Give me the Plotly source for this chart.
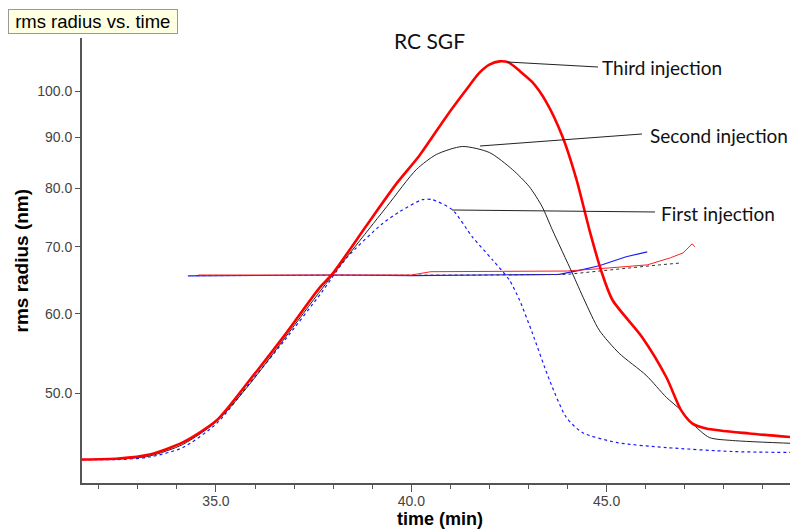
import plotly.graph_objects as go

# ---- data (time in min, rms radius in nm) ----
third_t = [31.57, 32.50, 33.30, 34.15, 35.02, 35.86, 36.76, 37.65, 37.98, 38.85, 39.62, 40.21,
           40.90, 41.41, 41.74, 42.00, 42.26, 42.50, 42.77, 43.10, 43.46, 43.87, 44.23, 44.56,
           44.87, 45.15, 45.91, 46.53, 46.91, 47.19, 47.55, 48.65, 49.85]
third_r = [42.95, 43.05, 43.45, 44.67, 47.0, 51.52, 57.14, 63.68, 65.76, 73.45, 80.9, 86.3,
           94.40, 100.4, 104.3, 106.3, 107.1, 106.8, 104.8, 102.1, 97.5, 90.15, 81.65, 72.77,
           66.07, 61.94, 56.88, 51.88, 48.08, 46.67, 46.13, 45.6, 45.18]

second_t = [31.57, 32.50, 33.30, 34.15, 35.02, 35.86, 36.76, 37.73, 39.37, 40.13, 40.64, 41.31,
            42.00, 42.59, 43.02, 43.35, 43.61, 44.12, 44.43, 44.81, 45.32, 46.01, 46.53, 46.91,
            47.19, 47.63, 48.22, 49.85]
second_r = [42.95, 43.0, 43.3, 44.46, 46.88, 51.05, 56.75, 63.68, 76.73, 83.56, 86.49, 88.10,
            86.89, 83.56, 80.35, 76.73, 72.77, 65.91, 61.94, 57.81, 54.82, 52.12, 49.54, 48.08,
            46.67, 45.18, 44.87, 44.56]

first_t = [31.57, 32.50, 33.30, 34.15, 35.02, 35.86, 36.76, 37.70, 38.34, 39.26, 39.70, 40.28,
           40.54, 41.05, 41.56, 42.08, 42.51, 42.77, 43.10, 43.54, 43.97, 44.38, 45.25, 46.53,
           48.22, 49.85]
first_r = [42.95, 42.95, 43.2, 44.15, 46.67, 51.17, 56.49, 63.0, 68.2, 73.8, 75.85, 77.98,
           77.98, 76.2, 71.61, 67.91, 64.86, 61.94, 57.41, 51.52, 47.31, 45.7, 44.67, 44.15,
           43.75, 43.65]

# baseline-like traces
first_flat_t = [34.28, 36.0, 38.0, 40.0, 42.0, 43.79, 44.30, 44.81, 45.50, 46.04]
first_flat_r = [65.46, 65.55, 65.6, 65.5, 65.6, 65.7, 66.3, 67.0, 68.4, 69.18]

third_flat_t = [34.55, 37.0, 40.0, 40.5, 42.0, 44.0, 45.08, 46.04, 46.63, 46.96, 47.19, 47.26]
third_flat_r = [65.6, 65.6, 65.6, 66.1, 66.1, 66.2, 66.68, 67.14, 68.23, 69.02, 70.47, 69.98]

second_flat_t = [34.5, 37.0, 40.0, 42.0, 44.0, 45.5, 46.35, 46.93]
second_flat_r = [65.5, 65.5, 65.6, 65.6, 65.7, 66.68, 67.14, 67.45]

y_ticks = [50, 60, 70, 80, 90, 100]
y_tick_text = ["50.0", "60.0", "70.0", "80.0", "90.0", "100.0"]
x_ticks = [35, 40, 45]
x_tick_text = ["35.0", "40.0", "45.0"]

fig = go.Figure()
fig.add_trace(go.Scatter(x=first_flat_t, y=first_flat_r, mode="lines",
                         line=dict(color="#1a1aff", width=1.2), showlegend=False))
fig.add_trace(go.Scatter(x=second_flat_t, y=second_flat_r, mode="lines",
                         line=dict(color="#333333", width=1, dash="dot"), showlegend=False))
fig.add_trace(go.Scatter(x=third_flat_t, y=third_flat_r, mode="lines",
                         line=dict(color="#ff2020", width=1), showlegend=False))
fig.add_trace(go.Scatter(x=first_t, y=first_r, mode="lines", line_shape="spline",
                         line=dict(color="#1a1aff", width=1.2, dash="dot", smoothing=0.7),
                         showlegend=False))
fig.add_trace(go.Scatter(x=second_t, y=second_r, mode="lines", line_shape="spline",
                         line=dict(color="#222222", width=1, smoothing=0.7), showlegend=False))
fig.add_trace(go.Scatter(x=third_t, y=third_r, mode="lines", line_shape="spline",
                         line=dict(color="#ff0000", width=2.6, smoothing=0.7), showlegend=False))

axis_col = "#555555"
fig.update_layout(
    width=790, height=522,
    margin=dict(l=74, r=0, t=30, b=47),
    paper_bgcolor="white", plot_bgcolor="white",
    font=dict(family="Arial, Liberation Sans", size=14, color="#444444"),
    xaxis=dict(range=[31.57, 49.9], tickvals=x_ticks, ticktext=x_tick_text, automargin=False,
               ticks="outside", ticklen=7, tickcolor=axis_col, tickwidth=1, ticklabelstandoff=-3,
               minor=dict(dtick=1, tick0=0, ticks="outside", ticklen=4, tickcolor=axis_col, showgrid=False),
               showline=True, linecolor=axis_col, linewidth=2, showgrid=False, zeroline=False,
               tickfont=dict(size=14, color="#444444")),
    yaxis=dict(type="log", range=[1.6096, 2.0531], tickvals=y_ticks, ticktext=y_tick_text,
               automargin=False,
               ticks="outside", ticklen=5, tickcolor=axis_col, tickwidth=1,
               showline=True, linecolor=axis_col, linewidth=2, showgrid=False, zeroline=False,
               tickfont=dict(size=14, color="#444444")),
)

# axis titles
fig.add_annotation(xref="paper", yref="paper", x=0.5, y=-0.081, xanchor="center", yanchor="middle",
                   text="<b>time (min)</b>", showarrow=False,
                   font=dict(family="Arial, Liberation Sans", size=18, color="#000000"))
fig.add_annotation(xref="paper", yref="paper", x=-0.0838, y=0.5, xanchor="center", yanchor="middle",
                   text="<b>rms radius (nm)</b>", showarrow=False, textangle=-90,
                   font=dict(family="Arial, Liberation Sans", size=19, color="#000000"))

ann_font = dict(family="Lato, Open Sans", size=19, color="#111111")
fig.add_annotation(xref="paper", yref="paper", x=-0.1034, y=1.0652, xanchor="left", yanchor="top",
                   text="&nbsp;rms radius vs. time&nbsp;", showarrow=False, bgcolor="#ffffe1",
                   bordercolor="#999999", borderwidth=1, borderpad=1,
                   font=dict(family="Arial, Liberation Sans", size=18.5, color="#000000"))
fig.add_annotation(xref="paper", yref="paper", x=0.486, y=0.9955, xanchor="center", yanchor="middle",
                   text="RC SGF", showarrow=False, font=dict(family="Lato, Open Sans", size=21, color="#111111"))

labels = [("Third injection", 0.7235, 0.9326, 0.5936, 0.9461, 0.7207, 0.9348),
          ("Second injection", 0.7905, 0.7820, 0.5559, 0.7573, 0.7821, 0.7843),
          ("First injection", 0.8059, 0.6067, 0.5168, 0.6135, 0.8003, 0.6090)]
for txt, lx, ly, x0, y0, x1, y1 in labels:
    fig.add_annotation(xref="paper", yref="paper", x=lx, y=ly, xanchor="left", yanchor="middle",
                       text=txt, showarrow=False, font=ann_font)
    fig.add_shape(type="line", xref="paper", yref="paper", x0=x0, y0=y0, x1=x1, y1=y1,
                  line=dict(color="#222222", width=1))

fig.write_html("out.html")
